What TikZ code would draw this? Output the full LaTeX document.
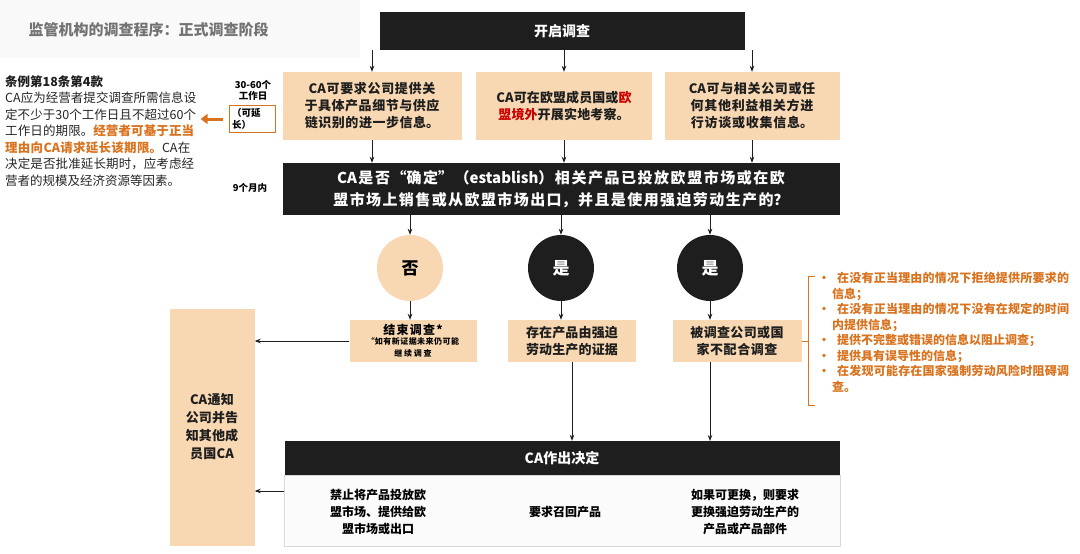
\documentclass[tikz,border=0pt]{standalone}
\usepackage{fontspec}
\setmainfont{Noto Sans CJK SC}
\XeTeXlinebreaklocale "zh"
\XeTeXlinebreakskip=0pt plus 1pt
\usetikzlibrary{arrows.meta}
\definecolor{tan}{HTML}{F8D8B2}
\definecolor{org}{HTML}{D9731F}
\definecolor{blk}{HTML}{1E1E1E}
\tikzset{
 tanbox/.style={fill=tan,draw=none,align=center,font=\fontsize{13}{17}\selectfont\bfseries,text=blk,inner sep=2pt},
 blkbox/.style={fill=blk,draw=none,align=center,text=white,font=\fontsize{14}{20}\selectfont\bfseries},
 arr/.style={-{Stealth[length=6pt]},thick,draw=blk},
 btxt/.style={align=center,font=\fontsize{12}{17}\selectfont\bfseries}
}
\newcommand{\bitem}[1]{\hangindent=14pt\hangafter=1 \noindent•\hspace{7pt}#1\par}
\begin{document}
\begin{tikzpicture}[x=1pt,y=-1pt]
\useasboundingbox (0,0) rectangle (1080,554);
\fill[white] (0,0) rectangle (1080,554);
\fill[gray!5] (0,0) rectangle (360,58);
\node[anchor=west,text=gray!90!black,font=\fontsize{15}{18}\selectfont\bfseries] (title) at (25,30) {监管机构的调查程序：正式调查阶段};
% top
\node[blkbox,minimum width=365,minimum height=38] (open) at (562,31) {开启调查};
\node[tanbox,minimum width=179,minimum height=68,text width=162] (b1) at (372,106) {CA可要求公司提供关于具体产品细节与供应链识别的进一步信息。};
\node[tanbox,minimum width=176,minimum height=68,text width=140] (b2) at (564,106) {CA可在欧盟成员国或\textcolor{red!80!black}{欧盟境外}开展实地考察。};
\node[tanbox,minimum width=175,minimum height=68,text width=160] (b3) at (752,106) {CA可与相关公司或任何其他利益相关方进行访谈或收集信息。};
\node[blkbox,minimum width=557,minimum height=52,text width=540,font=\fontsize{15}{22}\selectfont\bfseries] (q) at (561,189) {CA是否“确定”（establish）相关产品已投放欧盟市场或在欧盟市场上销售或从欧盟市场出口，并且是使用强迫劳动生产的？};
\draw[arr] (b1|-open.south) -- (b1.north);
\draw[arr] (b2|-open.south) -- (b2.north);
\draw[arr] (b3|-open.south) -- (b3.north);
\draw[arr] (b1.south) -- (b1|-q.north);
\draw[arr] (b2.south) -- (b2|-q.north);
\draw[arr] (b3.south) -- (b3|-q.north);
% left notes
\node[anchor=north west,text width=192,font=\fontsize{12.5}{16.5}\selectfont,text=gray!30!black,inner sep=0] (note) at (5,75) {\textbf{\textcolor{blk}{条例第18条第4款}}\par CA应为经营者提交调查所需信息设定不少于30个工作日且不超过60个工作日的期限。\textcolor{org}{\textbf{经营者可基于正当理由向CA请求延长该期限。}}CA在决定是否批准延长期时，应考虑经营者的规模及经济资源等因素。};
\node[font=\fontsize{9.5}{11}\selectfont\bfseries,align=center,inner sep=0] (days) at (253,90) {30-60个\\工作日};
\node[draw=org,thick,font=\fontsize{9.5}{12}\selectfont\bfseries,align=left,text width=40,inner sep=3pt] (ext) at (252,119) {（可延\\长）};
\draw[org,line width=3pt,-{Triangle[length=7pt,width=10pt]}] (ext.west)++(-6,0) -- ++(-22,0) coordinate (ae);
\node[font=\fontsize{9.5}{11}\selectfont\bfseries] (nine) at (250,188) {9个月内};
% circles
\node[circle,fill=tan,minimum size=66,font=\fontsize{17}{20}\selectfont\bfseries] (no) at (410,268) {否};
\node[circle,fill=blk,text=white,minimum size=66,font=\fontsize{17}{20}\selectfont\bfseries] (y1) at (561,268) {是};
\node[circle,fill=blk,text=white,minimum size=66,font=\fontsize{17}{20}\selectfont\bfseries] (y2) at (710,268) {是};
\draw[arr] (no|-q.south) -- (no.north);
\draw[arr] (y1|-q.south) -- (y1.north);
\draw[arr] (y2|-q.south) -- (y2.north);
\node[fill=tan,minimum width=127,minimum height=42,text width=110,align=center,inner sep=2pt] (fin) at (413,341) {\fontsize{12}{14}\selectfont\bfseries 结束调查*\par\fontsize{8}{10}\selectfont\bfseries\itshape “如有新证据未来仍可能\\继续调查};
\node[tanbox,minimum width=128,minimum height=42,text width=100] (ev) at (572,341) {存在产品由强迫劳动生产的证据};
\node[tanbox,minimum width=129,minimum height=42,text width=112] (nc) at (737,341) {被调查公司或国家不配合调查};
\draw[arr] (no.south) -- (no|-fin.north);
\draw[arr] (y1.south) -- (y1|-ev.north);
\draw[arr] (y2.south) -- (y2|-nc.north);
% bracket list
\draw[org,thick] (815,276) -- (808,276) -- (808,405) -- (815,405);
\draw[org,thick] (nc.east) -- (808,341);
\node[anchor=north west,text width=256,text=org,font=\fontsize{12}{15.5}\selectfont\bfseries,inner sep=0] (lst) at (818,272) {%
\bitem{在没有正当理由的情况下拒绝提供所要求的信息；}
\bitem{在没有正当理由的情况下没有在规定的时间内提供信息；}
\bitem{提供不完整或错误的信息以阻止调查；}
\bitem{提供具有误导性的信息；}
\bitem{在发现可能存在国家强制劳动风险时阻碍调查。}};
% left tall box
\node[tanbox,minimum width=85,minimum height=237,text width=60,font=\fontsize{13}{18}\selectfont\bfseries] (notify) at (212,427) {CA通知公司并告知其他成员国CA};
\draw[arr] (fin.west) -- (notify.east|-fin.west);
% decision
\node[blkbox,minimum width=555,minimum height=34] (dec) at (562,458) {CA作出决定};
\draw[gray!30,fill=gray!3] (dec.south west) rectangle (840,546);
\draw[arr] (ev.south) -- (ev|-dec.north);
\draw[arr] (710,362) -- (710,441);
\node[btxt] (d1) at (378,512) {禁止将产品投放欧\\盟市场、提供给欧\\盟市场或出口};
\node[btxt] (d2) at (565,512) {要求召回产品};
\node[btxt] (d3) at (745,512) {如果可更换，则要求\\更换强迫劳动生产的\\产品或产品部件};
\draw[arr] (dec.west|-0,491) -- (notify.east|-0,491);
\end{tikzpicture}
\end{document}
